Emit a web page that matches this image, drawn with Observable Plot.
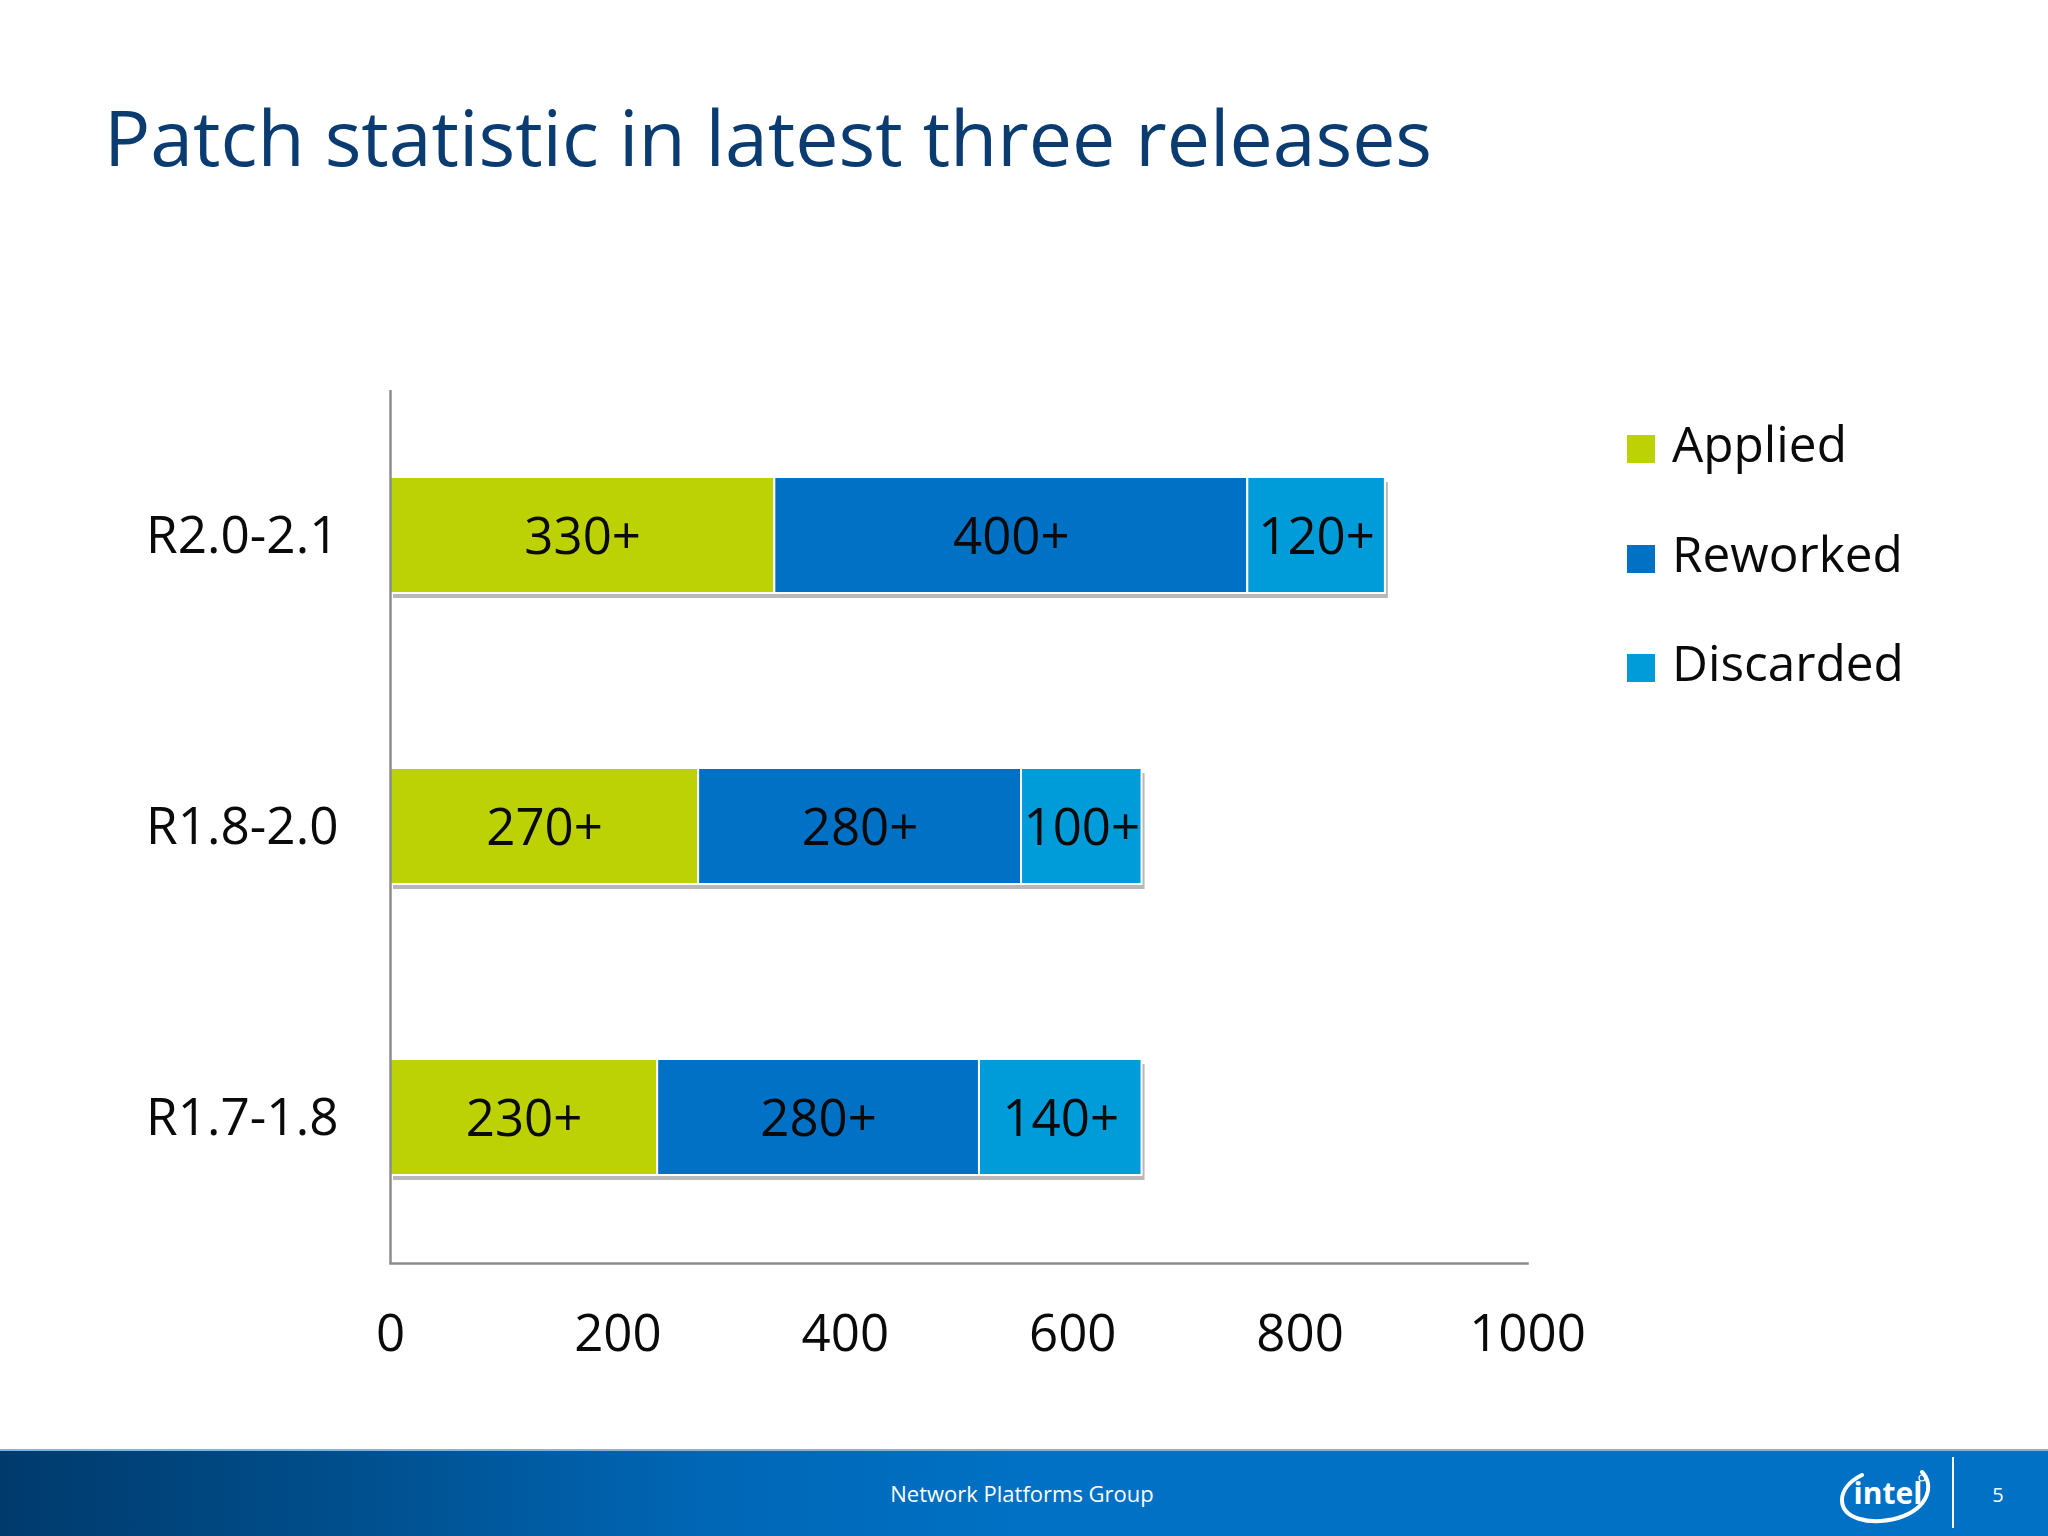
<!DOCTYPE html>
<html>
<head>
<meta charset="utf-8">
<script src="https://cdn.jsdelivr.net/npm/d3@7"></script>
<script src="https://cdn.jsdelivr.net/npm/@observablehq/plot@0.6"></script>
<style>
  html, body { margin: 0; padding: 0; background: #fff; }
  body { width: 2048px; height: 1536px; position: relative; overflow: hidden; font-family: "Open Sans", sans-serif; }
  #title { position: absolute; left: 104px; top: 98px; font-size: 77px; line-height: 1; color: #0B3C71; white-space: nowrap; }
  #chart { position: absolute; left: 0; top: 300px; }
  .leg-sw { position: absolute; width: 28px; height: 28px; }
  .leg-tx { position: absolute; font-size: 49.5px; line-height: 1; color: #0a0a0a; white-space: nowrap; }
  #footer { position: absolute; left: 0; top: 1449px; width: 2048px; height: 87px;
    background: linear-gradient(to right, #003A6C 0%, #00508F 18%, #0066B5 34%, #0071C5 50%, #0071C5 100%);
    border-top: 2px solid #7FB4DE; box-sizing: border-box; }
  #ftext { position: absolute; left: 1022px; top: 1493px; transform: translate(-50%, -50%); color: #fff; font-size: 22px; line-height: 1; white-space: nowrap; }
  #pnum { position: absolute; left: 1998px; top: 1495px; transform: translate(-50%, -50%); color: #fff; font-size: 20px; line-height: 1; }
  #sep { position: absolute; left: 1952px; top: 1457px; width: 2px; height: 71px; background: #fff; }
  #logo { position: absolute; left: 1838px; top: 1464px; }
</style>
</head>
<body>
<div id="title">Patch statistic in latest three releases</div>
<div id="chart"></div>
<div id="legend"></div>
<div id="footer"></div>
<div id="ftext">Network Platforms Group</div>
<svg id="logo" width="96" height="62" viewBox="0 0 96 62">
  <path d="M 84 8 C 96 20, 92 44, 60 54 C 30 62, 4 54, 4 36 C 4 26, 12 17, 24 11" fill="none" stroke="#fff" stroke-width="4" stroke-linecap="round"/>
  <text x="50" y="40" text-anchor="middle" fill="#fff" font-family="Open Sans" font-weight="700" font-size="30">intel</text>
  <circle cx="84" cy="14" r="3" fill="none" stroke="#fff" stroke-width="1.2"/>
</svg>
<div id="sep"></div>
<div id="pnum">5</div>
<script>
const releases = ["R2.0-2.1", "R1.8-2.0", "R1.7-1.8"];
const types = ["Applied", "Reworked", "Discarded"];
const applied = [338, 271, 235];
const reworked = [416, 284, 283];
const discarded = [121, 106, 143];
const appliedLabels = ["330+", "270+", "230+"];
const reworkedLabels = ["400+", "280+", "280+"];
const discardedLabels = ["120+", "100+", "140+"];
const colors = ["#BDD205", "#0071C5", "#009BD9"];
const xTicks = [0, 200, 400, 600, 800, 1000];

const seriesValues = [applied, reworked, discarded];
const seriesLabels = [appliedLabels, reworkedLabels, discardedLabels];
const data = [];
releases.forEach((r, i) => {
  types.forEach((t, j) => {
    data.push({release: r, type: t, value: seriesValues[j][i], label: seriesLabels[j][i]});
  });
});

const plot = Plot.plot({
  width: 1700,
  height: 1100,
  marginLeft: 390,
  marginRight: 173,
  marginTop: 90,
  marginBottom: 137,
  style: {fontFamily: "Open Sans", fontSize: "48px", color: "#0a0a0a", background: "transparent", overflow: "visible"},
  x: {domain: [0, 1000], axis: null},
  y: {domain: releases, paddingInner: 0.6, paddingOuter: 0.3, axis: null},
  color: {domain: types, range: colors},
  marks: [
    Plot.barX(data, Plot.stackX({x: "value", y: "release", z: "type", fill: "#000", fillOpacity: 0.28, dx: 3, dy: 5, ariaLabel: "shadow"})),
    Plot.barX(data, Plot.stackX({x: "value", y: "release", fill: "type", stroke: "#fff", strokeWidth: 2})),
    Plot.text(data, Plot.stackX({x: "value", y: "release", z: "type", text: "label", fill: "#0a0a0a", fontSize: 51, dy: 2})),
    Plot.ruleX([0], {stroke: "#8C8C8C", strokeWidth: 2.5}),
    Plot.frame({anchor: "bottom", stroke: "#8C8C8C", strokeWidth: 2.5}),
    Plot.axisX({ticks: xTicks, tickSize: 0, tickPadding: 51, fontSize: 51, label: null, tickFormat: d => String(d)}),
    Plot.axisY({tickSize: 0, tickPadding: 52, fontSize: 51.3, label: null, dy: 1})
  ]
});

// soft drop shadow under bars
const ns = "http://www.w3.org/2000/svg";
const defs = document.createElementNS(ns, "defs");
const filter = document.createElementNS(ns, "filter");
filter.setAttribute("id", "barShadow");
filter.setAttribute("x", "-5%"); filter.setAttribute("y", "-20%");
filter.setAttribute("width", "110%"); filter.setAttribute("height", "140%");
const blur = document.createElementNS(ns, "feGaussianBlur");
blur.setAttribute("stdDeviation", "3.5");
filter.appendChild(blur);
defs.appendChild(filter);
plot.insertBefore(defs, plot.firstChild);
const sh = plot.querySelector('g[aria-label="shadow"]');
if (sh) sh.setAttribute("filter", "url(#barShadow)");

document.getElementById("chart").appendChild(plot);

// legend
const legend = document.getElementById("legend");
types.forEach((t, i) => {
  const sw = document.createElement("div");
  sw.className = "leg-sw";
  sw.style.left = "1627px";
  sw.style.top = (435 + i * 109.5) + "px";
  sw.style.background = colors[i];
  legend.appendChild(sw);
  const tx = document.createElement("div");
  tx.className = "leg-tx";
  tx.style.left = "1672px";
  tx.style.top = (419 + i * 109.5) + "px";
  tx.textContent = t;
  legend.appendChild(tx);
});
</script>
</body>
</html>
